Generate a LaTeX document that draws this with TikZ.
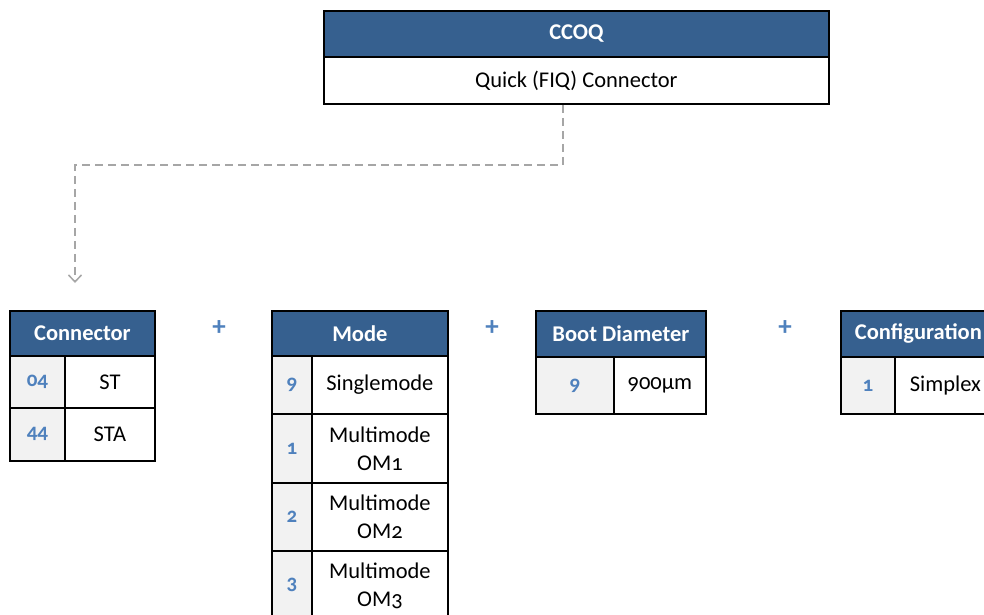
\documentclass[tikz,border=0pt]{standalone}
\usepackage{fontspec}
\setmainfont{Carlito}[Numbers=OldStyle]
\usetikzlibrary{arrows.meta}
\definecolor{hblue}{HTML}{36608F}
\definecolor{cblue}{HTML}{4F81BD}
\definecolor{cgray}{HTML}{F2F2F2}
\definecolor{lgray}{HTML}{A6A6A6}
\begin{document}
\begin{tikzpicture}[x=1pt,y=-1pt, font=\fontsize{22.5}{28}\selectfont,
 box/.style={draw=black, line width=1.8pt, anchor=north west, inner sep=0pt, align=center},
 hdr/.style={box, fill=hblue, text=white, font=\fontsize{22.5}{28}\selectfont\bfseries},
 cell/.style={box, fill=white},
 code/.style={box, fill=cgray, text=cblue, font=\fontsize{21}{24}\selectfont\bfseries},
 plus/.style={text=cblue, font=\fontsize{27}{27}\selectfont\bfseries, inner sep=0pt},
 link/.style={draw=lgray, line width=1.5pt, dash pattern=on 8pt off 5pt, -{Straight Barb[length=7pt,width=13pt]}}]
\useasboundingbox (0,0) rectangle (984,614);
\clip (0,0) rectangle (984,614);
% top
\node[hdr, minimum width=505pt, minimum height=46pt] (th) at (323,10) {CCOQ};
\node[cell, minimum width=505pt, minimum height=47pt] (tb) at (323,56) {Quick (FIQ) Connector};
\coordinate (arr) at (75,283);
\draw[link] ([xshift=-13.5pt]tb.south) -- ++(0,60) -| (arr);
% connector
\node[hdr, minimum width=145pt, minimum height=45pt] (c0) at (9,310) {Connector};
\node[code, minimum width=55pt, minimum height=52pt] (c1k) at (9,355) {04};
\node[cell, minimum width=90pt, minimum height=52pt] (c1v) at (64,355) {ST};
\node[code, minimum width=55pt, minimum height=53pt] (c2k) at (9,407) {44};
\node[cell, minimum width=90pt, minimum height=53pt] (c2v) at (64,407) {STA};
% mode
\node[hdr, minimum width=176pt, minimum height=45pt] (m0) at (271,310) {Mode};
\node[code, minimum width=40pt, minimum height=58pt] (m1k) at (271,355) {9};
\node[cell, minimum width=136pt, minimum height=58pt] (m1v) at (311,355) {Singlemode};
\node[code, minimum width=40pt, minimum height=69pt] (m2k) at (271,413) {1};
\node[cell, minimum width=136pt, minimum height=69pt] (m2v) at (311,413) {Multimode\\OM1};
\node[code, minimum width=40pt, minimum height=68pt] (m3k) at (271,482) {2};
\node[cell, minimum width=136pt, minimum height=68pt] (m3v) at (311,482) {Multimode\\OM2};
\node[code, minimum width=40pt, minimum height=69pt] (m4k) at (271,550) {3};
\node[cell, minimum width=136pt, minimum height=69pt] (m4v) at (311,550) {Multimode\\OM3};
% boot
\node[hdr, minimum width=170pt, minimum height=46pt] (b0) at (535,310) {Boot Diameter};
\node[code, minimum width=78pt, minimum height=57pt] (b1k) at (535,356) {9};
\node[cell, minimum width=92pt, minimum height=57pt] (b1v) at (613,356) {900µm};
% configuration
\node[hdr, minimum width=155pt, minimum height=46pt] (f0) at (840,310) {Configuration};
\node[code, minimum width=54pt, minimum height=57pt] (f1k) at (840,356) {1};
\node[cell, minimum width=101pt, minimum height=57pt] (f1v) at (894,356) {Simplex};
% plus signs
\node[plus] (p1) at (219,328) {+};
\node[plus] (p2) at (492,328) {+};
\node[plus] (p3) at (785,328) {+};
\end{tikzpicture}
\end{document}
